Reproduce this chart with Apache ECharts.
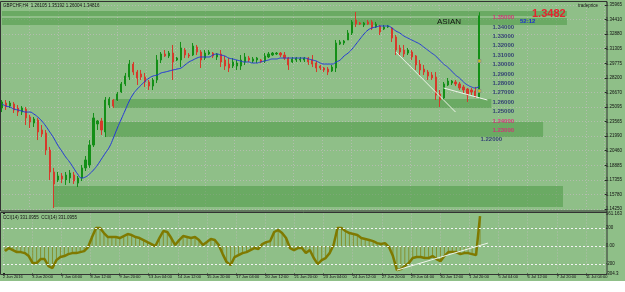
<!DOCTYPE html>
<html>
<head>
<meta charset="utf-8">
<title>GBPCHF,H4</title>
<script src="https://cdn.jsdelivr.net/npm/echarts@6/dist/echarts.min.js"></script>
<style>
  html, body { margin: 0; padding: 0; background: #fff; }
  #chart {
    width: 625px;
    height: 292px;
    background: linear-gradient(to bottom, #8fbf88 0, #8fbf88 281px, #fff 281px);
  }
</style>
</head>
<body>
<div id="chart"></div>
<script>
// H4 bars
const opens = [
  1.2500, 1.2553, 1.2521, 1.2543, 1.2500, 1.2457, 1.2489, 1.2404, 1.2340, 1.2372,
  1.2266, 1.2234, 1.2053, 1.1819, 1.1734, 1.1776, 1.1734, 1.1755, 1.1787, 1.1701,
  1.1755, 1.1862, 1.1893, 1.2106, 1.2330, 1.2362, 1.2245, 1.2532, 1.2585, 1.2585,
  1.2670, 1.2756, 1.2830, 1.2968, 1.2883, 1.2862, 1.2830, 1.2777, 1.2734, 1.2798,
  1.3011, 1.3075, 1.3054, 1.3085, 1.3011, 1.3011, 1.3117, 1.3064, 1.3064, 1.3149,
  1.3096, 1.3032, 1.3075, 1.3085, 1.3043, 1.3075, 1.3011, 1.2968, 1.2947, 1.2947,
  1.2947, 1.2990, 1.3032, 1.3000, 1.3011, 1.3011, 1.3000, 1.3043, 1.3064, 1.3075,
  1.3085, 1.3064, 1.3032, 1.2990, 1.3011, 1.3011, 1.3011, 1.3032, 1.3011, 1.2979,
  1.2947, 1.2926, 1.2915, 1.2894, 1.2926, 1.3181, 1.3192, 1.3224, 1.3298, 1.3437,
  1.3405, 1.3384, 1.3416, 1.3416, 1.3362, 1.3373, 1.3341, 1.3362, 1.3352, 1.3256,
  1.3139, 1.3117, 1.3085, 1.3096, 1.3054, 1.2968, 1.2915, 1.2883, 1.2851, 1.2830,
  1.2649, 1.2607, 1.2745, 1.2766, 1.2777, 1.2756, 1.2724, 1.2702, 1.2692, 1.2681,
  1.26105
]
const closes = [
  1.2564, 1.2511, 1.2553, 1.2479, 1.2457, 1.2500, 1.2394, 1.2351, 1.2383, 1.2245,
  1.2223, 1.2053, 1.1819, 1.1691, 1.1776, 1.1744, 1.1787, 1.1808, 1.1723, 1.1755,
  1.1862, 1.1947, 1.2106, 1.2394, 1.2362, 1.2266, 1.2585, 1.2596, 1.2521, 1.2649,
  1.2756, 1.2841, 1.2968, 1.2883, 1.2819, 1.2830, 1.2777, 1.2734, 1.2798, 1.3011,
  1.3075, 1.3054, 1.3085, 1.2990, 1.3032, 1.3139, 1.3064, 1.3054, 1.3160, 1.3096,
  1.3011, 1.3085, 1.3096, 1.3054, 1.3075, 1.2990, 1.2947, 1.2926, 1.2990, 1.2979,
  1.3011, 1.3043, 1.3011, 1.3022, 1.3032, 1.2990, 1.3054, 1.3075, 1.3085, 1.3085,
  1.3064, 1.3032, 1.2958, 1.3022, 1.3032, 1.3022, 1.3032, 1.2990, 1.2968, 1.2926,
  1.2926, 1.2905, 1.2883, 1.2936, 1.3192, 1.3203, 1.3213, 1.3298, 1.3416, 1.3394,
  1.3394, 1.3405, 1.3394, 1.3352, 1.3394, 1.3309, 1.3362, 1.3373, 1.3245, 1.3117,
  1.3096, 1.3075, 1.3117, 1.3043, 1.2958, 1.2905, 1.2883, 1.2841, 1.2819, 1.2638,
  1.2585, 1.2756, 1.2787, 1.2787, 1.2756, 1.2713, 1.2692, 1.2638, 1.2670, 1.2617,
  1.34816
]
const lows = [
  1.2457, 1.2479, 1.2500, 1.2447, 1.2415, 1.2426, 1.2319, 1.2287, 1.2298, 1.2159,
  1.2191, 1.2000, 1.1734, 1.1435, 1.1712, 1.1701, 1.1681, 1.1701, 1.1691, 1.1659,
  1.1723, 1.1829, 1.1862, 1.2085, 1.2266, 1.2213, 1.2191, 1.2500, 1.2500, 1.2575,
  1.2660, 1.2734, 1.2798, 1.2851, 1.2745, 1.2798, 1.2724, 1.2692, 1.2692, 1.2766,
  1.2979, 1.3043, 1.3032, 1.2798, 1.3000, 1.2936, 1.3032, 1.3032, 1.3054, 1.3064,
  1.2926, 1.3011, 1.3064, 1.3032, 1.3011, 1.2936, 1.2905, 1.2883, 1.2926, 1.2905,
  1.2905, 1.2958, 1.2990, 1.2979, 1.2979, 1.2979, 1.2979, 1.3032, 1.3054, 1.3064,
  1.3043, 1.3011, 1.2905, 1.2979, 1.2990, 1.2990, 1.2990, 1.2958, 1.2936, 1.2883,
  1.2905, 1.2883, 1.2851, 1.2883, 1.2883, 1.3171, 1.3171, 1.3224, 1.3277, 1.3362,
  1.3384, 1.3362, 1.3384, 1.3330, 1.3352, 1.3277, 1.3330, 1.3352, 1.3203, 1.3064,
  1.3064, 1.3043, 1.3064, 1.3011, 1.2905, 1.2851, 1.2851, 1.2798, 1.2798, 1.2585,
  1.2511, 1.2585, 1.2734, 1.2745, 1.2734, 1.2692, 1.2660, 1.2564, 1.2638, 1.2607,
  1.26004
]
const highs = [
  1.2585, 1.2585, 1.2575, 1.2564, 1.2532, 1.2521, 1.2511, 1.2426, 1.2404, 1.2394,
  1.2319, 1.2266, 1.2085, 1.1862, 1.1819, 1.1808, 1.1819, 1.1840, 1.1819, 1.1776,
  1.1893, 1.1989, 1.2159, 1.2447, 1.2372, 1.2394, 1.2617, 1.2617, 1.2596, 1.2670,
  1.2777, 1.2873, 1.3011, 1.2990, 1.2905, 1.2905, 1.2873, 1.2798, 1.2819, 1.3064,
  1.3096, 1.3117, 1.3107, 1.3171, 1.3043, 1.3203, 1.3139, 1.3085, 1.3192, 1.3171,
  1.3117, 1.3117, 1.3117, 1.3096, 1.3085, 1.3117, 1.3054, 1.3032, 1.3032, 1.3011,
  1.3064, 1.3085, 1.3054, 1.3043, 1.3043, 1.3022, 1.3085, 1.3096, 1.3096, 1.3096,
  1.3096, 1.3096, 1.3043, 1.3043, 1.3043, 1.3043, 1.3043, 1.3043, 1.3064, 1.3000,
  1.2958, 1.2936, 1.2936, 1.2958, 1.3224, 1.3224, 1.3224, 1.3330, 1.3437, 1.3522,
  1.3416, 1.3416, 1.3437, 1.3437, 1.3416, 1.3384, 1.3384, 1.3384, 1.3362, 1.3277,
  1.3171, 1.3171, 1.3139, 1.3117, 1.3064, 1.3011, 1.2958, 1.2905, 1.2883, 1.2883,
  1.2692, 1.2777, 1.2819, 1.2798, 1.2798, 1.2777, 1.2745, 1.2713, 1.2713, 1.2724,
  1.35192
]
// blue moving average
const maValues = [
  1.2543, 1.2521, 1.2511, 1.2489, 1.2479, 1.2468, 1.2457, 1.2457, 1.2436, 1.2404,
  1.2362, 1.2308, 1.2245, 1.2181, 1.2106, 1.2043, 1.1979, 1.1925, 1.1861, 1.1798,
  1.1755, 1.1766, 1.1798, 1.1840, 1.1893, 1.1957, 1.2021, 1.2085, 1.2181, 1.2287,
  1.2383, 1.2479, 1.2575, 1.2649, 1.2702, 1.2745, 1.2787, 1.2819, 1.2841, 1.2851,
  1.2873, 1.2883, 1.2894, 1.2905, 1.2915, 1.2926, 1.2958, 1.2990, 1.3011, 1.3032,
  1.3043, 1.3043, 1.3043, 1.3064, 1.3075, 1.3064, 1.3054, 1.3032, 1.3022, 1.3011,
  1.3000, 1.2990, 1.2990, 1.2979, 1.2979, 1.2990, 1.3000, 1.3011, 1.3022, 1.3022,
  1.3032, 1.3032, 1.3032, 1.3032, 1.3032, 1.3032, 1.3032, 1.3022, 1.3011, 1.3000,
  1.2979, 1.2968, 1.2968, 1.2968, 1.2990, 1.3011, 1.3054, 1.3085, 1.3128, 1.3181,
  1.3235, 1.3288, 1.3330, 1.3352, 1.3362, 1.3373, 1.3373, 1.3373, 1.3352, 1.3320,
  1.3298, 1.3267, 1.3245, 1.3224, 1.3203, 1.3181, 1.3149, 1.3117, 1.3085, 1.3054,
  1.3011, 1.2968, 1.2936, 1.2894, 1.2851, 1.2819, 1.2777, 1.2745, 1.2724, 1.2713,
  1.2734
]
// CCI(14)
const cciValues = [
  -56, -22, -44, -67, -67, -78, -111, -189, -189, -144,
  -144, -222, -244, -156, -122, -111, -89, -78, -78, -67,
  -56, -11, 100, 200, 200, 144, 100, 100, 100, 89,
  111, 133, 122, 100, 89, 67, 44, 22, 0, 89,
  167, 156, 89, 11, 67, 111, 100, 89, 100, 67,
  11, 44, 78, 67, 11, -89, -178, -211, -122, -100,
  -78, -67, -44, -22, -33, 22, 44, 55, 156, 178,
  144, 89, -22, -44, -22, -22, -78, -44, -133, -200,
  -156, -133, -78, 11, 200, 200, 167, 144, 133, 122,
  89, 78, 67, 55, 33, 22, 33, -11, -111, -267,
  -256, -222, -189, -133, -122, -122, -133, -133, -111, -144,
  -167, -111, -67, -67, -67, -89, -78, -78, -89, -100,
  331.0955
]
const slotCount = 152 // bar slots across the pane (incl. empty space on the right)

const priceMin = 1.14250
const priceMax = 1.35965
const priceTickLabels = ['1.14250', '1.15780', '1.17355', '1.18885', '1.20460', '1.21990', '1.23565',
  '1.25095', '1.26670', '1.28200', '1.29775', '1.31305', '1.32880', '1.34410', '1.35965']
const lastPrice = 1.34816

const cciMin = -304.3
const cciMax = 361.163
const cciTickValues = [-304.3, -200, 0, 200, 361.163]
const cciTickLabels = ['-304.3', '-200', '0.00', '200', '361.163']
const cciLevels = [200, 0, -200]

const timeLabels = ['2 Jun 2016', '3 Jun 20:00', '7 Jun 04:00', '8 Jun 12:00', '9 Jun 20:00', '13 Jun 04:00',
  '14 Jun 12:00', '15 Jun 20:00', '17 Jun 04:00', '20 Jun 12:00', '21 Jun 20:00', '23 Jun 04:00',
  '24 Jun 12:00', '27 Jun 20:00', '29 Jun 04:00', '30 Jun 12:00', '1 Jul 20:00', '5 Jul 04:00',
  '6 Jul 12:00', '7 Jul 20:00', '11 Jul 04:00']

// supply / demand zones: [from slot, to slot, upper price, lower price]
const zones = [
  [0, 142, 1.3533, 1.3480],
  [0, 142, 1.3458, 1.3384],
  [28, 123, 1.2596, 1.2500],
  [26, 136, 1.2351, 1.2191],
  [13, 141, 1.1670, 1.1446]
]
// round-number level labels
const levelPrices = [1.36, 1.35, 1.34, 1.33, 1.32, 1.31, 1.30, 1.29, 1.28, 1.27, 1.26, 1.25, 1.24, 1.23, 1.22]
const levelSlots = [126, 126, 126, 126, 126, 126, 126, 126, 126, 126, 126, 126, 126, 126, 123]
const accentLevels = [1.35, 1.24, 1.23]
// white trend lines [slot, price]
const trendMain = [
  [[99, 1.3096], [114, 1.2457]],
  [[111, 1.2713], [122, 1.2585]]
]
const trendCci = [[99, -267], [122, 33]]
const tradeMarks = [[120, 1.3000], [120, 1.2681]]

const titleText = 'GBPCHF,H4  1.26105 1.35192 1.26004 1.34816'
const cciTitle = 'CCI(14) 331.0955  CCI(14) 331.0955'

const upColor = '#138f17'
const downColor = '#d63a2b'
const dotColor = '#b3bdae'
const zoneFill = 'rgba(70,150,62,0.5)'
const cciColor = '#7f7a00'
const gridSpan = 607 / 29.4

const slots = Array.from({ length: slotCount }, (_, i) => String(i))
const candles = opens.map((o, i) => [o, closes[i], lows[i], highs[i]])
const fmt = v => Number(v).toFixed(5)

const chart = echarts.init(document.getElementById('chart'))

const trendSeries = trendMain.map(pts => ({
  type: 'line',
  xAxisIndex: 0,
  yAxisIndex: 0,
  data: pts,
  symbol: 'none',
  silent: true,
  z: 4,
  lineStyle: { color: '#eef3ea', width: 1 }
}))

const option = {
  animation: false,
  backgroundColor: 'transparent',
  textStyle: { fontFamily: 'Liberation Sans, Arial, sans-serif' },
  grid: [
    { left: 0, top: 5, width: 607, height: 204 },
    { left: 0, top: 213.5, width: 607, height: 60 }
  ],
  xAxis: [
    { type: 'category', gridIndex: 0, data: slots, position: 'bottom', show: false },
    { type: 'category', gridIndex: 1, data: slots, position: 'top', show: false },
    {
      type: 'value', gridIndex: 0, position: 'top', min: 0, max: gridSpan, interval: 1,
      axisLine: { show: false }, axisTick: { show: false }, axisLabel: { show: false },
      splitLine: { show: true, lineStyle: { color: dotColor, type: [1, 2], width: 1 } }
    },
    {
      type: 'value', gridIndex: 1, position: 'bottom', min: 0, max: gridSpan, interval: 1,
      axisLine: { show: false },
      axisTick: { show: true, length: 2, lineStyle: { color: '#222' } },
      axisLabel: {
        formatter: v => timeLabels[v] || '', align: 'left', fontSize: 4, color: '#111',
        margin: 1, showMaxLabel: false
      },
      splitLine: { show: true, lineStyle: { color: dotColor, type: [1, 2], width: 1 } }
    }
  ],
  yAxis: [
    { type: 'value', gridIndex: 0, min: priceMin, max: priceMax, show: false },
    {
      type: 'value', gridIndex: 0, position: 'right', min: 0, max: priceTickLabels.length - 1, interval: 1,
      axisLine: { show: false },
      axisTick: { show: true, length: 2, lineStyle: { color: '#222' } },
      axisLabel: { formatter: v => priceTickLabels[v] || '', fontSize: 4.5, color: '#111', margin: 1 },
      splitLine: { show: true, lineStyle: { color: dotColor, type: [1, 2], width: 1 } }
    },
    {
      type: 'value', gridIndex: 1, position: 'right', min: cciMin, max: cciMax,
      axisLine: { show: false },
      axisTick: { show: true, length: 2, customValues: cciTickValues, lineStyle: { color: '#222' } },
      axisLabel: {
        customValues: cciTickValues, fontSize: 4.5, color: '#111', margin: 1,
        formatter: v => {
          const k = cciTickValues.findIndex(t => Math.abs(t - v) < 1e-6)
          return k >= 0 ? cciTickLabels[k] : ''
        }
      },
      splitLine: { show: false }
    }
  ],
  graphic: [
    { type: 'rect', shape: { x: 0.5, y: 1.5, width: 606.5, height: 209.5 }, style: { fill: 'none', stroke: '#333', lineWidth: 1 }, z: 50 },
    { type: 'rect', shape: { x: 0.5, y: 212.5, width: 606.5, height: 62 }, style: { fill: 'none', stroke: '#333', lineWidth: 1 }, z: 50 },
    { type: 'text', x: 3, y: 3, style: { text: titleText, fontSize: 4.5, fill: '#111', fontFamily: 'Liberation Sans' }, z: 50 },
    { type: 'text', x: 578, y: 3, style: { text: 'tradeprice', fontSize: 4.5, fill: '#111', fontFamily: 'Liberation Sans' }, z: 50 },
    { type: 'text', x: 3, y: 215, style: { text: cciTitle, fontSize: 4.5, fill: '#111', fontFamily: 'Liberation Sans' }, z: 50 },
    { type: 'text', x: 437, y: 18, style: { text: 'ASIAN', fontSize: 8, fill: '#111', fontFamily: 'Liberation Sans' }, z: 50 },
    { type: 'text', x: 532, y: 8, style: { text: '1.3482', fontSize: 11, fill: '#e42530', fontWeight: 'bold', fontFamily: 'Liberation Sans' }, z: 50 },
    { type: 'text', x: 520, y: 18, style: { text: '52:12', fontSize: 6, fill: '#1c2fd0', fontWeight: 'bold', fontFamily: 'Liberation Sans' }, z: 50 }
  ],
  series: [
    {
      name: 'zones',
      type: 'line',
      xAxisIndex: 0,
      yAxisIndex: 0,
      data: [],
      z: 1,
      markArea: {
        silent: true,
        itemStyle: { color: zoneFill },
        data: zones.map(z => [{ xAxis: z[0], yAxis: z[2] }, { xAxis: z[1], yAxis: z[3] }])
      }
    },
    {
      name: 'GBPCHF',
      type: 'candlestick',
      xAxisIndex: 0,
      yAxisIndex: 0,
      data: candles,
      barWidth: 1.6,
      z: 3,
      itemStyle: {
        color: upColor,
        color0: downColor,
        borderColor: upColor,
        borderColor0: downColor,
        borderWidth: 1
      },
      markLine: {
        silent: true,
        symbol: 'none',
        lineStyle: { opacity: 0 },
        label: {
          position: 'end', formatter: () => fmt(lastPrice), color: '#fff', backgroundColor: '#000',
          fontSize: 4.5, padding: [1, 2], distance: 0
        },
        data: [{ yAxis: lastPrice }]
      }
    },
    {
      name: 'MA',
      type: 'line',
      xAxisIndex: 0,
      yAxisIndex: 0,
      data: maValues,
      symbol: 'none',
      smooth: true,
      z: 4,
      lineStyle: { color: '#2436d8', width: 1 }
    },
    ...trendSeries,
    {
      name: 'levels',
      type: 'scatter',
      xAxisIndex: 0,
      yAxisIndex: 0,
      symbolSize: 0,
      z: 6,
      data: levelPrices.map((p, k) => ({
        value: [levelSlots[k], p],
        label: { color: accentLevels.includes(p) ? '#e8177c' : '#1a1f6e' }
      })),
      label: {
        show: true, position: 'inside', offset: [0, 3.5], fontSize: 6, fontWeight: 'bold',
        formatter: p => fmt(p.value[1])
      }
    },
    {
      name: 'trades',
      type: 'scatter',
      xAxisIndex: 0,
      yAxisIndex: 0,
      symbol: 'rect',
      symbolSize: 3,
      z: 7,
      data: tradeMarks,
      itemStyle: { color: '#f2d21b', borderColor: '#8a8a8a', borderWidth: 1 }
    },
    {
      name: 'CCI hist',
      type: 'bar',
      xAxisIndex: 1,
      yAxisIndex: 2,
      data: cciValues,
      barWidth: 0.8,
      z: 2,
      itemStyle: { color: 'rgba(127,122,0,0.65)' }
    },
    {
      name: 'CCI',
      type: 'line',
      xAxisIndex: 1,
      yAxisIndex: 2,
      data: cciValues,
      symbol: 'none',
      z: 4,
      lineStyle: { color: cciColor, width: 2.5 },
      markLine: {
        silent: true,
        symbol: 'none',
        label: { show: false },
        lineStyle: { color: '#f4f4f4', type: [2, 2], width: 1 },
        data: cciLevels.map(v => ({ yAxis: v }))
      }
    },
    {
      name: 'CCI trend',
      type: 'line',
      xAxisIndex: 1,
      yAxisIndex: 2,
      data: trendCci,
      symbol: 'none',
      z: 5,
      lineStyle: { color: '#eef3ea', width: 1 }
    }
  ]
}

chart.setOption(option)
</script>
</body>
</html>
